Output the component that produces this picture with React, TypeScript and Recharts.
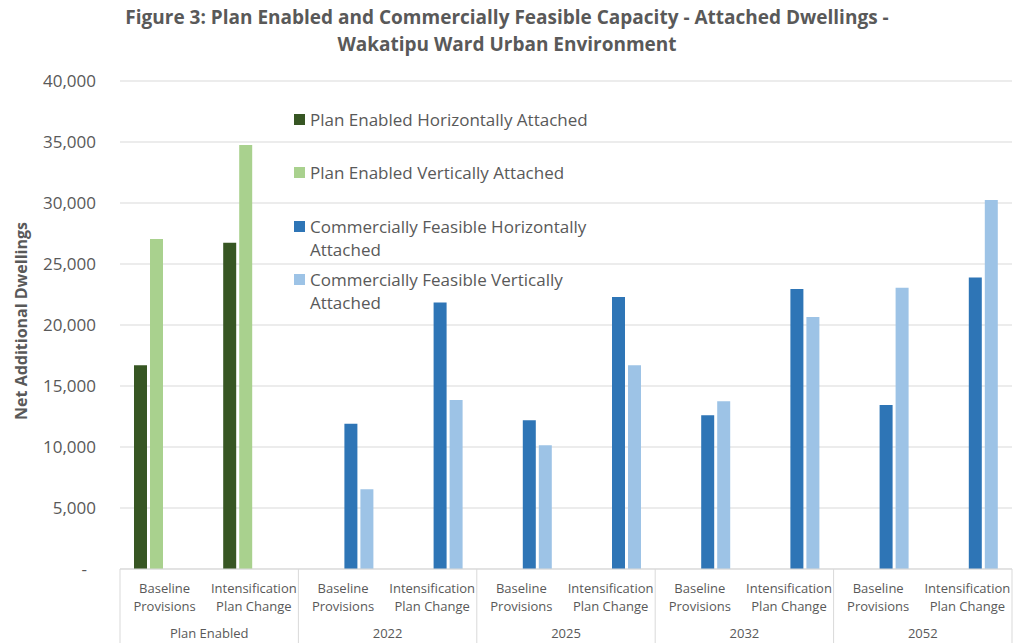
import { BarChart, Bar, XAxis, YAxis, CartesianGrid, Legend } from 'recharts';

const categories = [
  'Baseline\nProvisions',
  'Intensification\nPlan Change',
  'Baseline\nProvisions',
  'Intensification\nPlan Change',
  'Baseline\nProvisions',
  'Intensification\nPlan Change',
  'Baseline\nProvisions',
  'Intensification\nPlan Change',
  'Baseline\nProvisions',
  'Intensification\nPlan Change',
];
const groups = ['Plan Enabled', '2022', '2025', '2032', '2052'];

const seriesNames = [
  'Plan Enabled Horizontally Attached',
  'Plan Enabled Vertically Attached',
  'Commercially Feasible Horizontally Attached',
  'Commercially Feasible Vertically Attached',
];

const planEnabledHorizontal = [16700, 26750, null, null, null, null, null, null, null, null];
const planEnabledVertical = [27050, 34750, null, null, null, null, null, null, null, null];
const feasibleHorizontal = [null, null, 11900, 21850, 12200, 22300, 12600, 22950, 13450, 23900];
const feasibleVertical = [null, null, 6530, 13850, 10150, 16700, 13750, 20650, 23050, 30250];

const yTicks = [0, 5000, 10000, 15000, 20000, 25000, 30000, 35000, 40000];

const FONT = '"Open Sans", sans-serif';
const TEXT = '#595959';
const GRID = '#d9d9d9';

const chartData = categories.map((label, i) => ({
  key: i,
  label,
  group: groups[Math.floor(i / 2)],
  peH: planEnabledHorizontal[i],
  peV: planEnabledVertical[i],
  cfH: feasibleHorizontal[i],
  cfV: feasibleVertical[i],
}));

function YTick({ x, y, payload }: any) {
  const v = payload.value as number;
  return (
    <text
      x={v === 0 ? x - 9 : x}
      y={y}
      dy={6}
      textAnchor="end"
      fill={TEXT}
      fontSize={17}
      fontFamily={FONT}
    >
      {v === 0 ? '-' : v.toLocaleString('en-US')}
    </text>
  );
}

function CategoryTick(props: any) {
  const { x, y, payload } = props;
  const i = props.index ?? payload.index;
  const lines = categories[i].split('\n');
  return (
    <g>
      {lines.map((line, k) => (
        <text
          key={k}
          x={x}
          y={y + 24 + k * 18}
          textAnchor="middle"
          fill={TEXT}
          fontSize={13}
          fontFamily={FONT}
        >
          {line}
        </text>
      ))}
    </g>
  );
}

function GroupTick(props: any) {
  const { x, y, payload } = props;
  const i = props.index ?? payload.index;
  const half = payload.offset || 44.5;
  if (i % 2 !== 0) {
    return i === categories.length - 1 ? (
      <line x1={x + half} x2={x + half} y1={y - 50} y2={y + 26} stroke={GRID} />
    ) : (
      <g />
    );
  }
  return (
    <g>
      <line x1={x - half} x2={x - half} y1={y - 50} y2={y + 26} stroke={GRID} />
      <text
        x={x + half}
        y={y + 19}
        textAnchor="middle"
        fill={TEXT}
        fontSize={13}
        fontFamily={FONT}
      >
        {groups[i / 2]}
      </text>
    </g>
  );
}

function YLabel({ viewBox }: any) {
  const cy = viewBox.y + viewBox.height / 2 - 4;
  return (
    <text
      x={0}
      y={0}
      transform={`translate(27, ${cy}) rotate(-90)`}
      textAnchor="middle"
      fill={TEXT}
      fontSize={16}
      fontWeight="bold"
      fontFamily={FONT}
    >
      Net Additional Dwellings
    </text>
  );
}

function LegendBox({ payload }: any) {
  const items = [...(payload || [])].sort(
    (a: any, b: any) => seriesNames.indexOf(a.value) - seriesNames.indexOf(b.value)
  );
  return (
    <div style={{ fontFamily: FONT, fontSize: 17, color: TEXT, lineHeight: '23px' }}>
      {items.map((p: any) => (
        <div key={p.value} style={{ display: 'flex', height: 53.5 }}>
          <div
            style={{
              width: 11,
              height: 11,
              marginTop: 6,
              marginRight: 5,
              background: p.color,
              flex: '0 0 auto',
            }}
          />
          <div>{p.value}</div>
        </div>
      ))}
    </div>
  );
}

export default function App() {
  return (
    <div style={{ position: 'absolute', left: 0, top: 0, width: 1014, height: 643, background: '#fff' }}>
      <div
        style={{
          position: 'absolute',
          left: 0,
          top: 4,
          width: 1014,
          textAlign: 'center',
          fontFamily: FONT,
          fontWeight: 'bold',
          fontSize: 19,
          lineHeight: '27px',
          color: TEXT,
          zIndex: 2,
        }}
      >
        Figure 3: Plan Enabled and Commercially Feasible Capacity - Attached Dwellings -
        <br />
        Wakatipu Ward Urban Environment
      </div>
      <BarChart
        width={1014}
        height={643}
        data={chartData}
        margin={{ top: 81, right: 2, bottom: 0, left: 0 }}
        barSize={13}
        barGap={3}
      >
        <CartesianGrid vertical={false} stroke={GRID} />
        <YAxis
          width={120}
          domain={[0, 40000]}
          ticks={yTicks}
          axisLine={false}
          tickLine={false}
          tickSize={0}
          tickMargin={24}
          tick={<YTick />}
          interval={0}
          label={(p: any) => <YLabel viewBox={p.viewBox} />}
        />
        <XAxis
          xAxisId={0}
          dataKey="key"
          height={50}
          interval={0}
          axisLine={{ stroke: GRID }}
          tickLine={false}
          tickSize={0}
          tickMargin={0}
          tick={<CategoryTick />}
        />
        <XAxis
          xAxisId={1}
          dataKey="key"
          height={24}
          interval={0}
          axisLine={false}
          tickLine={false}
          tickSize={0}
          tickMargin={0}
          tick={<GroupTick />}
        />
        <Legend
          layout="vertical"
          align="center"
          verticalAlign="middle"
          wrapperStyle={{ left: 294, top: 107.5, width: 310 }}
          content={<LegendBox />}
        />
        <Bar dataKey="peH" name={seriesNames[0]} fill="#375623" isAnimationActive={false} />
        <Bar dataKey="peV" name={seriesNames[1]} fill="#A9D18E" isAnimationActive={false} />
        <Bar dataKey="cfH" name={seriesNames[2]} fill="#2E75B6" isAnimationActive={false} />
        <Bar dataKey="cfV" name={seriesNames[3]} fill="#9DC3E6" isAnimationActive={false} />
      </BarChart>
    </div>
  );
}
